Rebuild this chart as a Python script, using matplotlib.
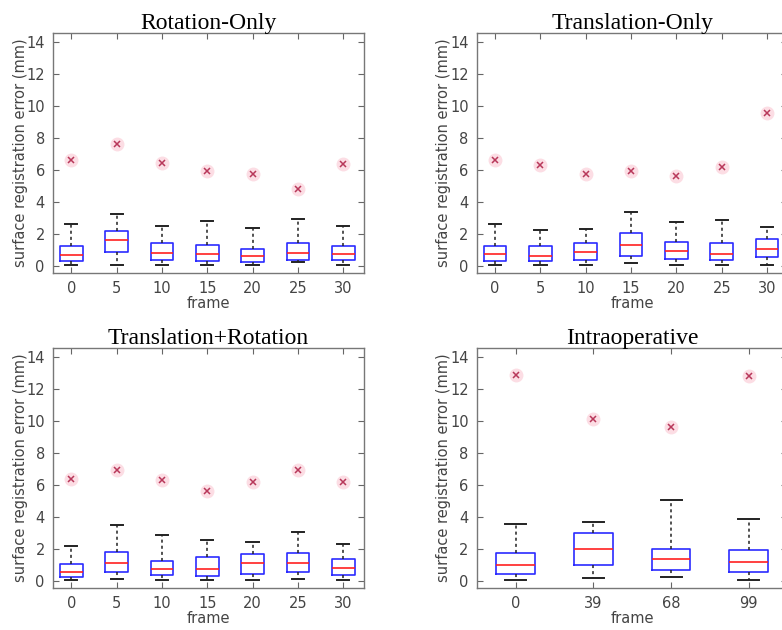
import matplotlib
matplotlib.use("Agg")
import matplotlib.pyplot as plt

# per panel: frame labels, whisker low, q1, median, q3, whisker high, outlier
rot_frames = ["0", "5", "10", "15", "20", "25", "30"]
rot_lo = [0.10, 0.10, 0.10, 0.10, 0.10, 0.27, 0.10]
rot_q1 = [0.31, 0.89, 0.41, 0.35, 0.27, 0.41, 0.41]
rot_med = [0.70, 1.62, 0.83, 0.77, 0.64, 0.85, 0.77]
rot_q3 = [1.29, 2.22, 1.45, 1.31, 1.08, 1.45, 1.29]
rot_hi = [2.66, 3.26, 2.53, 2.82, 2.41, 2.97, 2.51]
rot_out = [6.60, 7.63, 6.43, 5.91, 5.77, 4.83, 6.37]

tra_frames = ["0", "5", "10", "15", "20", "25", "30"]
tra_lo = [0.10, 0.10, 0.10, 0.19, 0.10, 0.10, 0.10]
tra_q1 = [0.35, 0.35, 0.37, 0.66, 0.46, 0.37, 0.58]
tra_med = [0.75, 0.66, 0.87, 1.35, 0.93, 0.79, 1.08]
tra_q3 = [1.29, 1.29, 1.45, 2.10, 1.51, 1.45, 1.70]
tra_hi = [2.66, 2.28, 2.32, 3.36, 2.76, 2.86, 2.43]
tra_out = [6.60, 6.29, 5.77, 5.91, 5.64, 6.16, 9.54]

tr_frames = ["0", "5", "10", "15", "20", "25", "30"]
tr_lo = [0.08, 0.14, 0.08, 0.08, 0.08, 0.14, 0.08]
tr_q1 = [0.27, 0.56, 0.41, 0.35, 0.48, 0.56, 0.41]
tr_med = [0.58, 1.14, 0.77, 0.79, 1.12, 1.14, 0.83]
tr_q3 = [1.08, 1.85, 1.29, 1.51, 1.68, 1.76, 1.41]
tr_hi = [2.22, 3.51, 2.90, 2.59, 2.47, 3.07, 2.32]
tr_out = [6.39, 6.91, 6.33, 5.60, 6.22, 6.91, 6.22]

op_frames = ["0", "39", "68", "99"]
op_lo = [0.10, 0.19, 0.25, 0.10]
op_q1 = [0.48, 1.04, 0.73, 0.58]
op_med = [1.00, 2.01, 1.41, 1.22]
op_q3 = [1.74, 3.01, 2.01, 1.97]
op_hi = [3.59, 3.69, 5.04, 3.90]
op_out = [12.86, 10.10, 9.60, 12.76]

panels = [
    ("Rotation-Only", rot_frames, rot_lo, rot_q1, rot_med, rot_q3, rot_hi, rot_out),
    ("Translation-Only", tra_frames, tra_lo, tra_q1, tra_med, tra_q3, tra_hi, tra_out),
    ("Translation+Rotation", tr_frames, tr_lo, tr_q1, tr_med, tr_q3, tr_hi, tr_out),
    ("Intraoperative", op_frames, op_lo, op_q1, op_med, op_q3, op_hi, op_out),
]

rects = [
    [0.068, 0.567, 0.397, 0.381],
    [0.610, 0.567, 0.397, 0.381],
    [0.068, 0.067, 0.397, 0.381],
    [0.610, 0.067, 0.397, 0.381],
]

txt = "#444444"
fig = plt.figure(figsize=(7.82, 6.3), dpi=100)

for rect, (title, frames, lo, q1, med, q3, hi, out) in zip(rects, panels):
    ax = fig.add_axes(rect)
    n = len(frames)
    pos = list(range(1, n + 1))
    stats = [
        {"whislo": lo[i], "q1": q1[i], "med": med[i], "q3": q3[i],
         "whishi": hi[i], "fliers": [out[i]]}
        for i in range(n)
    ]
    ax.bxp(stats, positions=pos, widths=0.5, capwidths=0.27,
           boxprops=dict(color="#2b2bff", linewidth=1.2),
           medianprops=dict(color="#ff2020", linewidth=1.2),
           whiskerprops=dict(color="#222222", linewidth=1.1, linestyle=(0, (2, 2))),
           capprops=dict(color="#222222", linewidth=1.4),
           flierprops=dict(marker="o", markersize=10, markerfacecolor="#fcdde4",
                           markeredgecolor="none"))
    ax.plot(pos, out, linestyle="none", marker="x", markersize=4.5,
            color="#b8385a", markeredgewidth=1.1)

    if n == 7:
        ax.set_xlim(0.6, 7.45)
    else:
        ax.set_xlim(0.5, 4.5)
    ax.set_ylim(-0.4, 14.55)
    ax.set_yticks(range(0, 15, 2))
    ax.set_xticks(pos)
    ax.set_xticklabels(frames)
    ax.tick_params(direction="in", top=True, right=True, colors="#666666",
                   labelcolor=txt, labelsize=10.5, length=4, pad=6)
    for s in ax.spines.values():
        s.set_color("#777777")
        s.set_linewidth(1.0)
    ax.set_xlabel("frame", color=txt, fontsize=10.5, labelpad=0)
    ax.set_ylabel("surface registration error (mm)", color=txt, fontsize=10.5, labelpad=-1)
    ax.set_title(title, family="Liberation Serif", fontsize=17, pad=3)

fig.savefig("out.png", dpi=100)
plt.close(fig)
